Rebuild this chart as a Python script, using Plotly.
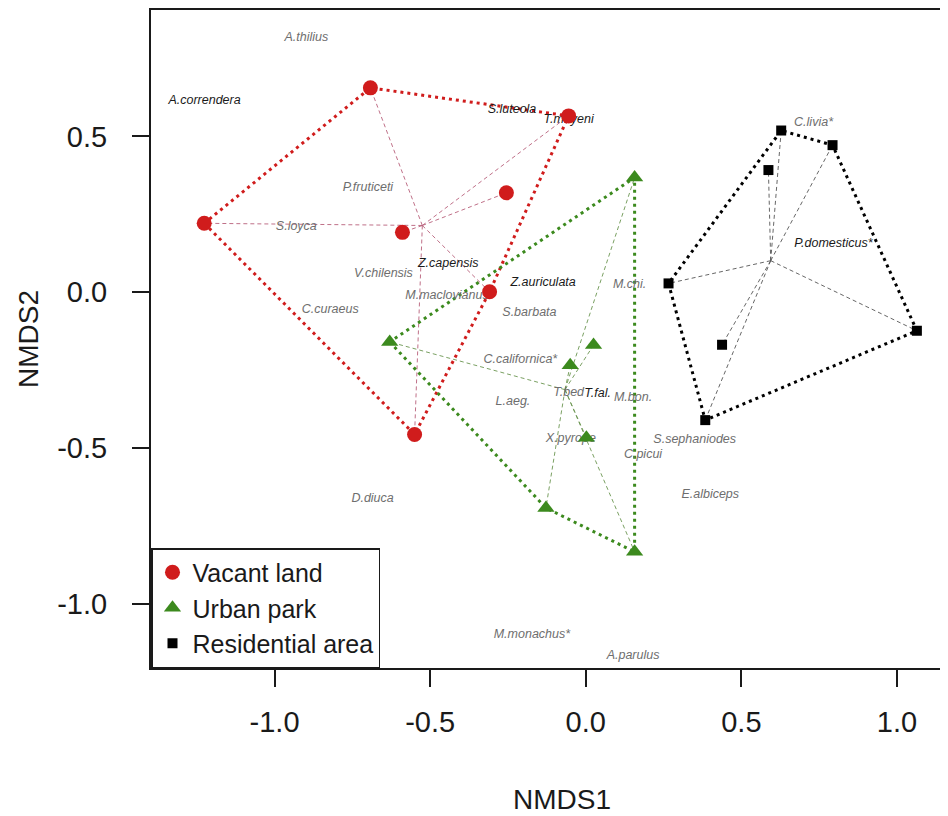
import numpy as np
import plotly.graph_objects as go

# ---------------- data ----------------
vacant_x = [-0.692, -0.055, -0.255, -0.589, -1.226, -0.309, -0.550]
vacant_y = [0.656, 0.566, 0.319, 0.192, 0.221, 0.001, -0.457]

park_x = [0.157, -0.630, 0.025, -0.050, 0.002, -0.128, 0.157]
park_y = [0.368, -0.160, -0.170, -0.235, -0.468, -0.693, -0.834]

resid_x = [0.628, 0.793, 0.587, 0.266, 0.438, 1.064, 0.384]
resid_y = [0.519, 0.472, 0.392, 0.028, -0.169, -0.124, -0.411]

species_names = ["A.thilius", "A.correndera", "S.luteola", "T.meyeni", "P.fruticeti",
                 "S.loyca", "Z.capensis", "V.chilensis", "Z.auriculata", "M.maclovianus",
                 "C.curaeus", "S.barbata", "M.chi.", "C.livia*", "P.domesticus*",
                 "C.californica*", "L.aeg.", "T.bed", "T.fal.", "M.bon.", "X.pyrope",
                 "S.sephaniodes", "C.picui", "E.albiceps", "D.diuca", "M.monachus*",
                 "A.parulus"]
species_x = [-0.898, -1.225, -0.237, -0.055, -0.700, -0.930, -0.442, -0.650, -0.137, -0.446,
             -0.821, -0.181, 0.141, 0.732, 0.796, -0.210, -0.234, -0.055, 0.038, 0.152,
             -0.048, 0.350, 0.184, 0.400, -0.685, -0.173, 0.152]
species_y = [0.815, 0.614, 0.585, 0.553, 0.335, 0.208, 0.090, 0.060, 0.031, -0.013,
             -0.058, -0.068, 0.022, 0.544, 0.156, -0.216, -0.353, -0.325, -0.328, -0.340,
             -0.472, -0.473, -0.524, -0.652, -0.663, -1.100, -1.168]
dark_species = ["A.correndera", "S.luteola", "T.meyeni", "Z.capensis", "Z.auriculata",
                "T.fal.", "P.domesticus*"]

x_ticks = [-1.0, -0.5, 0.0, 0.5, 1.0]
x_tick_labels = ["-1.0", "-0.5", "0.0", "0.5", "1.0"]
y_ticks = [-1.0, -0.5, 0.0, 0.5]
y_tick_labels = ["-1.0", "-0.5", "0.0", "0.5"]

FONT = "Liberation Sans, Arial, sans-serif"


def convex_hull(xs, ys):
    pts = sorted(set(zip(xs, ys)))

    def cross(o, a, b):
        return (a[0] - o[0]) * (b[1] - o[1]) - (a[1] - o[1]) * (b[0] - o[0])

    lower, upper = [], []
    for p in pts:
        while len(lower) >= 2 and cross(lower[-2], lower[-1], p) <= 0:
            lower.pop()
        lower.append(p)
    for p in reversed(pts):
        while len(upper) >= 2 and cross(upper[-2], upper[-1], p) <= 0:
            upper.pop()
        upper.append(p)
    hull = lower[:-1] + upper[:-1]
    hull.append(hull[0])
    return [p[0] for p in hull], [p[1] for p in hull]


def spider(xs, ys):
    cx, cy = float(np.mean(xs)), float(np.mean(ys))
    sx, sy = [], []
    for x, y in zip(xs, ys):
        sx += [cx, x, None]
        sy += [cy, y, None]
    return sx, sy


groups = [
    dict(name="Vacant land", x=vacant_x, y=vacant_y, color="#d01c1c",
         spider="#b8607a", symbol="circle", size=15),
    dict(name="Urban park", x=park_x, y=park_y, color="#3c8a1e",
         spider="#6b9550", symbol="triangle-up", size=15),
    dict(name="Residential area", x=resid_x, y=resid_y, color="#000000",
         spider="#555555", symbol="square", size=10),
]

fig = go.Figure()

# spiders and hulls
for g in groups:
    sx, sy = spider(g["x"], g["y"])
    fig.add_trace(go.Scatter(x=sx, y=sy, mode="lines", showlegend=False, hoverinfo="skip",
                             line=dict(color=g["spider"], width=0.9, dash="4px,3px")))
for g in groups:
    hx, hy = convex_hull(g["x"], g["y"])
    fig.add_trace(go.Scatter(x=hx, y=hy, mode="lines", showlegend=False, hoverinfo="skip",
                             line=dict(color=g["color"], width=3, dash="3px,4px")))

# species labels
text_colors = ["#1a1a1a" if n in dark_species else "#6e6e6e" for n in species_names]
fig.add_trace(go.Scatter(x=species_x, y=species_y, mode="text", text=species_names,
                         showlegend=False, hoverinfo="skip",
                         textfont=dict(family=FONT, size=12.5, color=text_colors,
                                       style="italic")))

# site points
for g in groups:
    fig.add_trace(go.Scatter(x=g["x"], y=g["y"], mode="markers", name=g["name"],
                             marker=dict(color=g["color"], symbol=g["symbol"], size=g["size"],
                                         line=dict(width=0))))

fig.update_layout(
    width=940, height=808,
    margin=dict(l=143, r=0, t=2, b=148),
    paper_bgcolor="white", plot_bgcolor="white",
    font=dict(family=FONT, color="#1a1a1a"),
    showlegend=True,
    legend=dict(x=0, y=0, xanchor="left", yanchor="bottom", bgcolor="white",
                bordercolor="#1a1a1a", borderwidth=1.5,
                font=dict(family=FONT, size=25, color="#1a1a1a"),
                tracegroupgap=0, itemsizing="trace"),
    xaxis=dict(range=[-1.397, 1.164], tickvals=x_ticks, ticktext=x_tick_labels,
               showgrid=False, zeroline=False, showline=True, mirror=True,
               linecolor="#1a1a1a", linewidth=2, ticks="outside", ticklen=17,
               tickwidth=1.5, tickcolor="#1a1a1a", ticklabelstandoff=10,
               tickfont=dict(family=FONT, size=29, color="#1a1a1a")),
    yaxis=dict(range=[-1.207, 0.906], tickvals=y_ticks, ticktext=y_tick_labels,
               showgrid=False, zeroline=False, showline=True, mirror=False,
               linecolor="#1a1a1a", linewidth=2, ticks="outside", ticklen=17,
               tickwidth=1.5, tickcolor="#1a1a1a", ticklabelstandoff=19,
               tickfont=dict(family=FONT, size=29, color="#1a1a1a")),
    annotations=[
        dict(text="NMDS1", xref="paper", yref="paper", x=0.516, y=-0.2006,
             xanchor="center", yanchor="middle", showarrow=False,
             font=dict(family=FONT, size=28, color="#1a1a1a")),
        dict(text="NMDS2", xref="paper", yref="paper", x=-0.1543, y=0.5,
             xanchor="center", yanchor="middle", textangle=-90, showarrow=False,
             font=dict(family=FONT, size=28, color="#1a1a1a")),
    ],
)

fig.write_html("out.html")
